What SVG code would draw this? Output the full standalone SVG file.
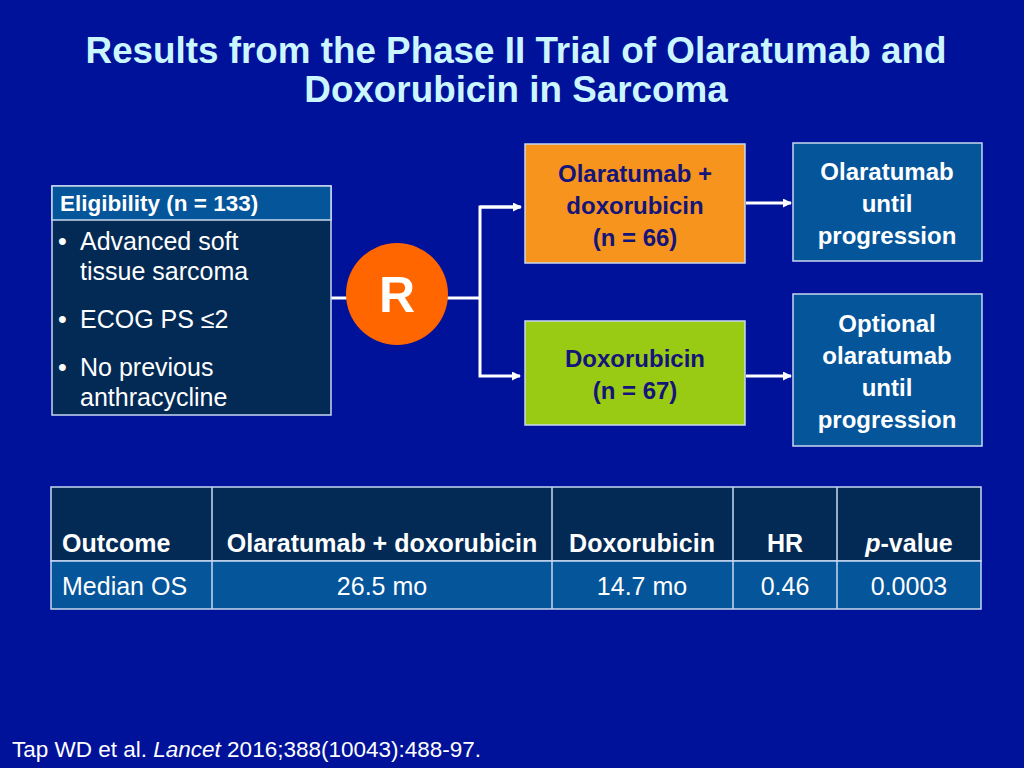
<svg xmlns="http://www.w3.org/2000/svg" width="1024" height="768" viewBox="0 0 1024 768">
<defs>
<style>
text{font-family:"Liberation Sans",Arial,sans-serif;}
.title{fill:#ccf6ff;font-size:36.8px;font-weight:bold;text-anchor:middle;}
.wb{fill:#fff;font-weight:bold;}
.w{fill:#fff;}
.nb{fill:#14147a;font-weight:bold;font-size:24px;text-anchor:middle;}
.rb{fill:#fff;font-weight:bold;font-size:24px;text-anchor:middle;}
.box{stroke:#c8d8f0;stroke-width:1.5;}
.conn{stroke:#fff;stroke-width:3;fill:none;}
.th{fill:#fff;font-weight:bold;font-size:25px;}
.td{fill:#fff;font-size:25px;}
.c{text-anchor:middle;}
</style>
<marker id="ah" markerWidth="9" markerHeight="9" refX="8" refY="4.5" orient="auto" markerUnits="userSpaceOnUse">
<path d="M0,0 L9,4.5 L0,9 Z" fill="#fff"/>
</marker>
</defs>
<rect width="1024" height="768" fill="#00129a"/>
<text class="title" x="516" y="63">Results from the Phase II Trial of Olaratumab and</text>
<text class="title" x="516" y="102">Doxorubicin in Sarcoma</text>

<g id="connectors">
<line class="conn" x1="331" y1="298" x2="350" y2="298"/>
<line class="conn" x1="446" y1="298" x2="480" y2="298"/>
<polyline class="conn" points="520,207 480,207 480,376 520,376" marker-end="url(#ah)"/>
<line class="conn" x1="480" y1="207" x2="521" y2="207" marker-end="url(#ah)"/>
<line class="conn" x1="746" y1="203" x2="791" y2="203" marker-end="url(#ah)"/>
<line class="conn" x1="746" y1="376" x2="791" y2="376" marker-end="url(#ah)"/>
</g>

<g id="eligibility">
<rect class="box" x="52" y="186" width="279" height="229" fill="#022a55"/>
<rect class="box" x="52" y="186" width="279" height="34" fill="#04559a"/>
<text class="wb" x="60" y="211" font-size="22.5">Eligibility (n = 133)</text>
<g class="w" font-size="25">
<text x="58" y="250">•</text><text x="80" y="250">Advanced soft</text>
<text x="80" y="280">tissue sarcoma</text>
<text x="58" y="328">•</text><text x="80" y="328">ECOG PS ≤2</text>
<text x="58" y="376">•</text><text x="80" y="376">No previous</text>
<text x="80" y="406">anthracycline</text>
</g>
</g>

<g id="randomize">
<circle cx="397" cy="294" r="51" fill="#ff6600"/>
<text class="wb c" x="397" y="312" font-size="50">R</text>
</g>

<g id="arm-combo">
<rect class="box" x="525" y="144" width="220" height="119" fill="#f7941d"/>
<text class="nb" x="635" y="182">Olaratumab +</text>
<text class="nb" x="635" y="214">doxorubicin</text>
<text class="nb" x="635" y="246">(n = 66)</text>
</g>

<g id="arm-dox">
<rect class="box" x="525" y="321" width="220" height="104" fill="#9acb14"/>
<text class="nb" x="635" y="367">Doxorubicin</text>
<text class="nb" x="635" y="399">(n = 67)</text>
</g>

<g id="followup-1">
<rect class="box" x="793" y="143" width="189" height="118" fill="#04559a"/>
<text class="rb" x="887" y="180">Olaratumab</text>
<text class="rb" x="887" y="212">until</text>
<text class="rb" x="887" y="244">progression</text>
</g>

<g id="followup-2">
<rect class="box" x="793" y="294" width="189" height="152" fill="#04559a"/>
<text class="rb" x="887" y="332">Optional</text>
<text class="rb" x="887" y="364">olaratumab</text>
<text class="rb" x="887" y="396">until</text>
<text class="rb" x="887" y="428">progression</text>
</g>

<g id="table">
<rect class="box" x="51" y="487" width="930" height="74" fill="#022a55"/>
<rect class="box" x="51" y="561" width="930" height="48" fill="#04559a"/>
<g stroke="#c8d8f0" stroke-width="1.5">
<line x1="212" y1="487" x2="212" y2="609"/>
<line x1="552" y1="487" x2="552" y2="609"/>
<line x1="733" y1="487" x2="733" y2="609"/>
<line x1="837" y1="487" x2="837" y2="609"/>
</g>
<text class="th" x="62" y="552">Outcome</text>
<text class="th c" x="382" y="552">Olaratumab + doxorubicin</text>
<text class="th c" x="642" y="552">Doxorubicin</text>
<text class="th c" x="785" y="552">HR</text>
<text class="th c" x="909" y="552"><tspan font-style="italic">p</tspan>-value</text>
<text class="td" x="62" y="595">Median OS</text>
<text class="td c" x="382" y="595">26.5 mo</text>
<text class="td c" x="642" y="595">14.7 mo</text>
<text class="td c" x="785" y="595">0.46</text>
<text class="td c" x="909" y="595">0.0003</text>
</g>

<text class="w" x="12" y="757" font-size="22.5">Tap WD et al. <tspan font-style="italic">Lancet</tspan> 2016;388(10043):488-97.</text>
</svg>
